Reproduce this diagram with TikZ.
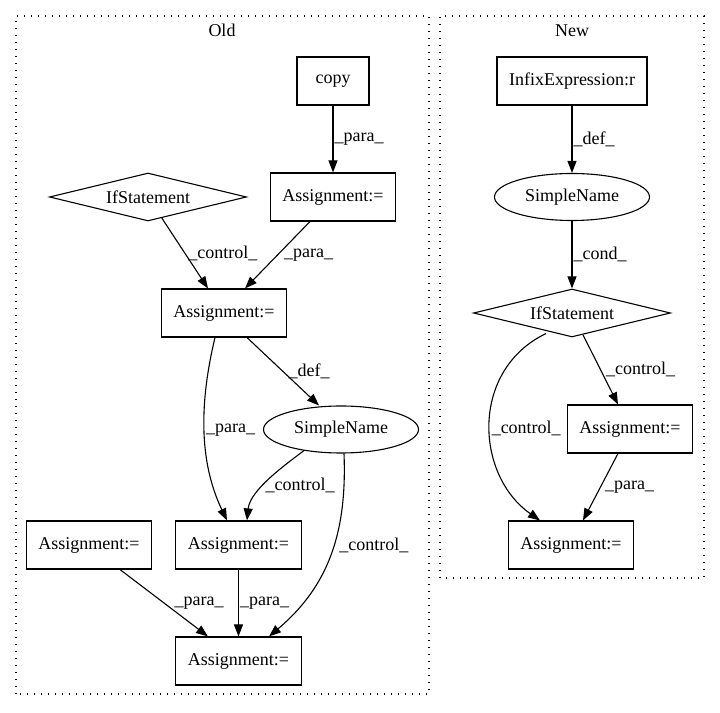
\documentclass[tikz,border=0pt]{standalone}
\usepackage{fontspec}
\setmainfont{Liberation Serif}
\usetikzlibrary{shapes.geometric,arrows.meta}
\begin{document}
\begin{tikzpicture}[x=1pt, y=1pt,
		every node/.style={font=\fontsize{18}{21}\selectfont},
		box/.style={draw, line width=1.1pt, rectangle, minimum height=48pt, minimum width=72pt, inner xsep=12pt},
		ifnode/.style={draw, line width=1.1pt, diamond, aspect=4.1, minimum width=197pt, minimum height=48pt, inner sep=0pt},
		ellnode/.style={draw, line width=1.1pt, ellipse, minimum width=155pt, minimum height=47pt, inner sep=0pt},
		lbl/.style={anchor=west, inner sep=1pt},
		link/.style={line width=1.1pt, ->, >={Triangle[length=12pt, width=9pt]}},
		cluster/.style={line width=1.3pt, dash pattern=on 1.4pt off 5.6pt}]
		\useasboundingbox (0,0) rectangle (720,712);
		\draw[cluster] (16,18) rectangle (429,696);
		\draw[cluster] (440,134) rectangle (704,696);
		\node (old) at (222,682) {Old};
		\node (new) at (572,681) {New};
		
		\node[box] (copy) at (333,631) {copy};
		\node[box] (a1) at (333,515) {Assignment:=};
		\node[ifnode] (ifo) at (148,515) {IfStatement};
		\node[box] (a2) at (224,399) {Assignment:=};
		\node[ellnode] (sno) at (341,282.5) {SimpleName};
		\node[box] (a3) at (238.5,167) {Assignment:=};
		\node[box] (a4) at (89,167) {Assignment:=};
		\node[box] (a5) at (238.5,51) {Assignment:=};
		
		\node[box] (infix) at (572,631) {InfixExpression:r};
		\node[ellnode] (snn) at (572,515) {SimpleName};
		\node[ifnode] (ifn) at (572,399) {IfStatement};
		\node[box] (an1) at (630,283) {Assignment:=};
		\node[box] (an2) at (571,167) {Assignment:=};
		
		\draw[link] (copy) -- node[lbl] {\_para\_} (a1);
		\draw[link] (ifo) -- node[lbl, xshift=2pt] {\_control\_} ([xshift=-16pt]a2.north);
		\draw[link] ([xshift=-23pt]a1.south) -- node[lbl, xshift=5pt] {\_para\_} ([xshift=21pt]a2.north);
		\draw[link] ([xshift=-9pt]a2.south) .. controls (200,312) and (198,252) .. node[lbl] {\_para\_} ([xshift=-11.5pt]a3.north);
		\draw[link] ([xshift=23pt]a2.south) -- node[lbl, xshift=4pt] {\_def\_} ([xshift=-22pt]sno.north);
		\draw[link] ([shift={(-37pt,3pt)}]sno.south) .. controls (285,247) and (250,222) .. node[lbl, pos=.58] {\_control\_} ([xshift=8.5pt]a3.north);
		\draw[link] ([xshift=3pt]sno.south) .. controls (347,182) and (330,127) .. node[lbl, pos=.45, xshift=4pt] {\_control\_} ([xshift=30.5pt]a5.north);
		\draw[link] ([xshift=31pt]a4.south) -- node[lbl, xshift=9pt] {\_para\_} ([xshift=-30.5pt]a5.north);
		\draw[link] (a3) -- node[lbl] {\_para\_} (a5);
		
		\draw[link] (infix) -- node[lbl] {\_def\_} (snn);
		\draw[link] (snn) -- node[lbl] {\_cond\_} (ifn);
		\draw[link] (ifn) -- node[lbl, xshift=4pt] {\_control\_} ([xshift=-12pt]an1.north);
		\draw[link] ([shift={(-26pt,4pt)}]ifn.south) .. controls (470,342) and (475,237) .. node[lbl, pos=.52] {\_control\_} ([xshift=-31pt]an2.north);
		\draw[link] ([xshift=-12pt]an1.south) -- node[lbl, xshift=3pt] {\_para\_} ([xshift=12pt]an2.north);
	\end{tikzpicture}
\end{document}
